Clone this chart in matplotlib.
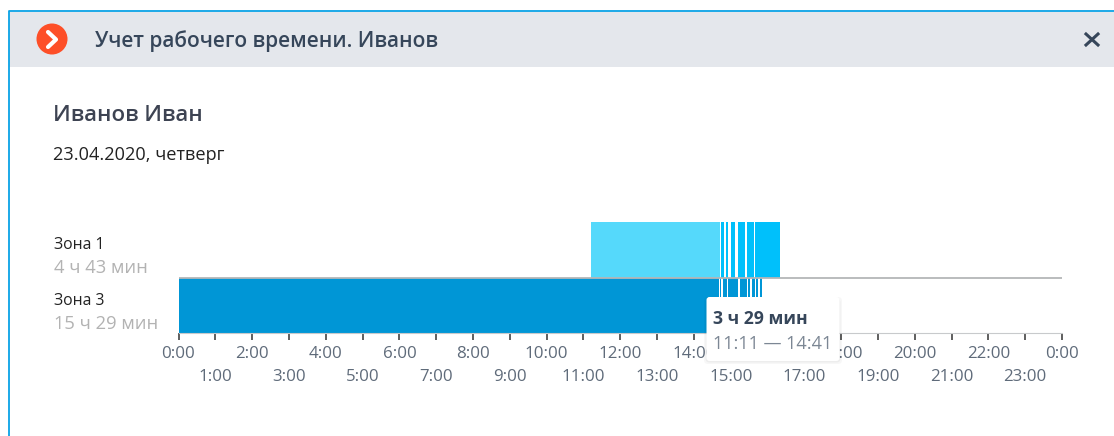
import matplotlib
matplotlib.use('Agg')
import matplotlib.pyplot as plt
from matplotlib.patches import Circle, FancyBboxPatch, Rectangle

W, H = 1114, 436

title = 'Учет рабочего времени. Иванов'
person = 'Иванов Иван'
date_label = '23.04.2020, четверг'
zones = ['Зона 3', 'Зона 1']
zone_totals = ['15 ч 29 мин', '4 ч 43 мин']

# hours of the day
zone1_start = [11.2, 14.74, 14.86, 15.01, 15.2, 15.44, 15.67]
zone1_end = [14.7, 14.82, 14.93, 15.12, 15.39, 15.62, 16.35]
zone3_start = [0, 14.71, 14.78, 14.94, 15.24, 15.48, 15.58, 15.69, 15.79]
zone3_end = [14.67, 14.75, 14.89, 15.2, 15.44, 15.52, 15.67, 15.73, 15.85]

even_hours = list(range(0, 25, 2))
odd_hours = list(range(1, 24, 2))
even_labels = ['0:00', '2:00', '4:00', '6:00', '8:00', '10:00', '12:00',
               '14:00', '16:00', '18:00', '20:00', '22:00', '0:00']
odd_labels = ['1:00', '3:00', '5:00', '7:00', '9:00', '11:00', '13:00',
              '15:00', '17:00', '19:00', '21:00', '23:00']

tip_value = '3 ч 29 мин'
tip_range = '11:11 — 14:41'

plt.rcParams['font.family'] = ['Open Sans', 'DejaVu Sans']


def pixel_axes(fig, zorder):
    # axes covering the whole figure, in image pixels
    ax = fig.add_axes([0, 0, 1, 1], zorder=zorder)
    ax.set_xlim(0, W)
    ax.set_ylim(H, 0)
    ax.axis('off')
    return ax


fig = plt.figure(figsize=(W / 100, H / 100), dpi=100)

# window frame and header
back = pixel_axes(fig, 0)
back.add_patch(Rectangle((9, 12), W - 9, 55, fc='#e4e7ec', ec='none'))
back.plot([8.5, 8.5, W], [H, 11, 11], color='#0aa3e6', lw=1.3)
back.add_patch(Circle((52, 39), 15.5, fc='#fd4f28', ec='none'))
back.plot([48, 56, 48], [32, 39.5, 47], color='white', lw=3, solid_capstyle='round')
back.text(95, 41.5, title, fontsize=15, fontweight='semibold', color='#36465a', va='center')
back.plot([1086, 1098], [34, 45], color='#36465a', lw=2.2)
back.plot([1086, 1098], [45, 34], color='#36465a', lw=2.2)
back.text(53, 115, person, fontsize=16, fontweight='semibold', color='#3d4352', va='center')
back.text(53, 155, date_label, fontsize=13.1, color='#222222', va='center')
for i, y in enumerate([301, 245]):
    back.text(54, y, zones[i], fontsize=11.3, color='#222222', va='center')
    back.text(54, y + 23, zone_totals[i], fontsize=13.2, color='#b3b3b3', va='center')

# chart
ax = fig.add_axes([178.5 / W, 1 - 333 / H, (1062 - 178.5) / W, 111 / H], zorder=1)
ax.patch.set_alpha(0)
ax.barh(1, [e - s for s, e in zip(zone1_start, zone1_end)], left=zone1_start,
        height=1, color=['#55d9fb'] + ['#00c0fb'] * (len(zone1_start) - 1))
ax.barh(0, [e - s for s, e in zip(zone3_start, zone3_end)], left=zone3_start,
        height=1, color='#0096d6')
ax.axhline(0.5, color='#b4b6b8', lw=1.3)
ax.set_xlim(0, 24)
ax.set_ylim(-0.5, 1.5)
ax.set_yticks([])
for name in ['top', 'left', 'right']:
    ax.spines[name].set_visible(False)
ax.spines['bottom'].set_color('#c8cacc')
ax.set_xticks(even_hours, even_labels)
ax.set_xticks(odd_hours, odd_labels, minor=True)
ax.tick_params(which='major', length=5, width=1.1, color='#333333', pad=4.3,
               labelsize=12.2, labelcolor='#5f6b7a', direction='out')
ax.tick_params(which='minor', length=5, width=1.1, color='#333333', pad=21,
               labelsize=12.2, labelcolor='#5f6b7a', direction='out')

# tooltip on top of the axis labels
over = pixel_axes(fig, 2)
for grow, alpha in [(4, 0.03), (2.5, 0.04), (1, 0.06)]:
    over.add_patch(FancyBboxPatch((708 - grow, 299 - grow + 2), 130 + 2 * grow, 59 + 2 * grow,
                                  boxstyle='round,pad=0,rounding_size=4', fc='black',
                                  ec='none', alpha=alpha))
over.add_patch(FancyBboxPatch((706.5, 297), 133, 64, boxstyle='round,pad=0,rounding_size=3',
                              fc='white', ec='none'))
over.text(713, 319, tip_value, fontsize=12.7, fontweight='bold', color='#36465a', va='center')
over.text(713, 344, tip_range, fontsize=13, color='#7c8794', va='center')

fig.savefig('out.png', dpi=100)
